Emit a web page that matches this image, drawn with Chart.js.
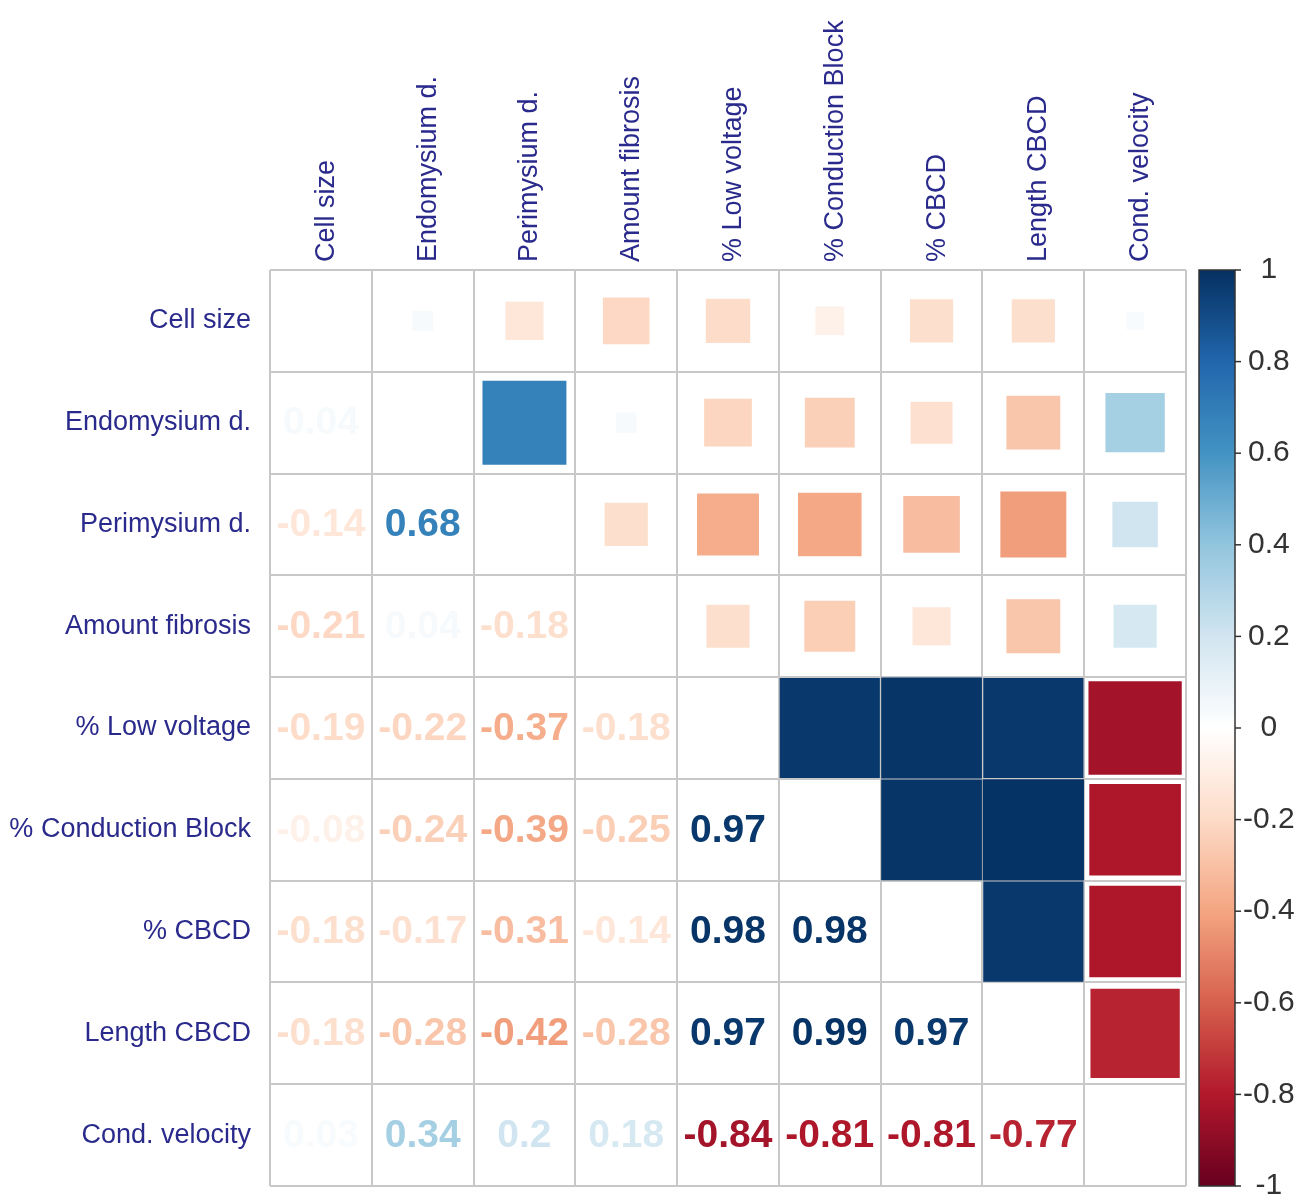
<!DOCTYPE html>
<html>
<head>
<meta charset="utf-8">
<title>Correlation matrix</title>
<script src="https://cdn.jsdelivr.net/npm/chart.js@4.4.1/dist/chart.umd.min.js"></script>
<style>
  body { margin: 0; background: #fff; }
  canvas { display: block; }
</style>
</head>
<body>
<canvas id="corrChart" width="1304" height="1202"></canvas>
<script>
const variables = [
  "Cell size",
  "Endomysium d.",
  "Perimysium d.",
  "Amount fibrosis",
  "% Low voltage",
  "% Conduction Block",
  "% CBCD",
  "Length CBCD",
  "Cond. velocity",
];

// lower triangle, one row per variable (values left of the diagonal)
const cellSize = [];
const endomysium = [0.04];
const perimysium = [-0.14, 0.68];
const amountFibrosis = [-0.21, 0.04, -0.18];
const lowVoltage = [-0.19, -0.22, -0.37, -0.18];
const conductionBlock = [-0.08, -0.24, -0.39, -0.25, 0.97];
const cbcd = [-0.18, -0.17, -0.31, -0.14, 0.98, 0.98];
const lengthCbcd = [-0.18, -0.28, -0.42, -0.28, 0.97, 0.99, 0.97];
const condVelocity = [0.03, 0.34, 0.2, 0.18, -0.84, -0.81, -0.81, -0.77];

const lowerRows = [
  cellSize, endomysium, perimysium, amountFibrosis, lowVoltage,
  conductionBlock, cbcd, lengthCbcd, condVelocity,
];

// RdBu ramp, -1 -> 1
const paletteStops = [
  "#67001F", "#B2182B", "#D6604D", "#F4A582", "#FDDBC7", "#FFFFFF",
  "#D1E5F0", "#92C5DE", "#4393C3", "#2166AC", "#053061",
];

const labelColor = "#2a2a8c";
const gridColor = "#c8c8c8";
const fontFamily = "'Liberation Sans', Arial, sans-serif";

function hexToRgb(h) {
  return [1, 3, 5].map((k) => parseInt(h.slice(k, k + 2), 16));
}

function corrColor(r) {
  const n = paletteStops.length - 1;
  const t = ((r + 1) / 2) * n;
  const i = Math.min(Math.floor(t), n - 1);
  const f = t - i;
  const a = hexToRgb(paletteStops[i]);
  const b = hexToRgb(paletteStops[i + 1]);
  const c = a.map((v, k) => Math.round(v + (b[k] - v) * f));
  return `rgb(${c[0]}, ${c[1]}, ${c[2]})`;
}

// upper triangle squares, mirrored from the lower rows
const squares = [];
lowerRows.forEach((row, i) => {
  row.forEach((r, j) => {
    squares.push({ x: variables[i], y: variables[j], r });
  });
});

// square side grows with sqrt(|r|); 'rect' points are radius * sqrt(2) wide
function squareRadius(c) {
  const area = c.chart.chartArea;
  if (!area) return 0;
  const cell = (area.right - area.left) / variables.length;
  return (Math.sqrt(Math.abs(c.raw.r)) * cell) / Math.SQRT2;
}

// ===== numbers in the lower triangle =====
const cellNumbers = {
  id: "cellNumbers",
  afterDatasetsDraw(chart) {
    const { ctx, scales } = chart;
    ctx.save();
    ctx.font = `bold 39px ${fontFamily}`;
    ctx.textAlign = "center";
    ctx.textBaseline = "middle";
    lowerRows.forEach((row, i) => {
      row.forEach((r, j) => {
        ctx.fillStyle = corrColor(r);
        ctx.fillText(String(r), scales.x.getPixelForValue(j), scales.y.getPixelForValue(i) + 1);
      });
    });
    ctx.restore();
  },
};

// ===== colour legend bar =====
const colorbar = {
  id: "colorbar",
  afterDraw(chart) {
    const s = chart.scales.cb;
    const ctx = chart.ctx;
    const top = s.getPixelForValue(1);
    const bottom = s.getPixelForValue(-1);
    const x0 = s.left + 13;
    const w = 36;
    const g = ctx.createLinearGradient(0, bottom, 0, top);
    paletteStops.forEach((c, k) => g.addColorStop(k / (paletteStops.length - 1), c));
    ctx.save();
    ctx.fillStyle = g;
    ctx.fillRect(x0, top, w, bottom - top);
    ctx.strokeStyle = "#333";
    ctx.lineWidth = 1.5;
    ctx.strokeRect(x0, top, w, bottom - top);
    s.ticks.forEach((t) => {
      const y = s.getPixelForValue(t.value);
      ctx.beginPath();
      ctx.moveTo(x0 + w, y);
      ctx.lineTo(x0 + w + 6, y);
      ctx.stroke();
    });
    ctx.restore();
  },
};

function fixSize(prop, size) {
  return (scale) => {
    scale[prop] = size;
    scale.paddingTop = 0;
    scale.paddingBottom = 0;
    scale.paddingLeft = 0;
    scale.paddingRight = 0;
  };
}

const chart = new Chart(document.getElementById("corrChart"), {
  type: "scatter",
  data: {
    datasets: [
      {
        data: squares,
        pointStyle: "rect",
        backgroundColor: (c) => corrColor(c.raw.r),
        borderWidth: 0,
        pointRadius: squareRadius,
        pointHoverRadius: squareRadius,
      },
    ],
  },
  options: {
    responsive: false,
    animation: false,
    events: [],
    layout: { padding: { top: 0, left: 0, right: 0, bottom: 16 } },
    plugins: {
      legend: { display: false },
      tooltip: { enabled: false },
    },
    scales: {
      x: {
        type: "category",
        labels: variables,
        position: "top",
        offset: true,
        z: 1,
        grid: { offset: true, color: gridColor, lineWidth: 2, drawTicks: false },
        border: { display: false },
        ticks: {
          minRotation: 90,
          maxRotation: 90,
          padding: 8,
          labelOffset: 38,
          autoSkip: false,
          color: labelColor,
          font: { family: fontFamily, size: 27 },
        },
        afterFit: fixSize("height", 270),
      },
      y: {
        type: "category",
        labels: variables,
        position: "left",
        offset: true,
        z: 1,
        grid: { offset: true, color: gridColor, lineWidth: 2, drawTicks: false },
        border: { display: false },
        ticks: {
          padding: 19,
          autoSkip: false,
          color: labelColor,
          font: { family: fontFamily, size: 27 },
        },
        afterFit: fixSize("width", 270),
      },
      cb: {
        type: "linear",
        position: "right",
        min: -1,
        max: 1,
        grid: { display: false, drawTicks: false },
        border: { display: false },
        ticks: {
          stepSize: 0.2,
          padding: 57,
          crossAlign: "center",
          autoSkip: false,
          color: "#333",
          font: { family: fontFamily, size: 30 },
          callback: (v) => String(Number(v.toFixed(1))),
        },
        afterFit: fixSize("width", 118),
      },
    },
  },
  plugins: [cellNumbers, colorbar],
});
</script>
</body>
</html>
